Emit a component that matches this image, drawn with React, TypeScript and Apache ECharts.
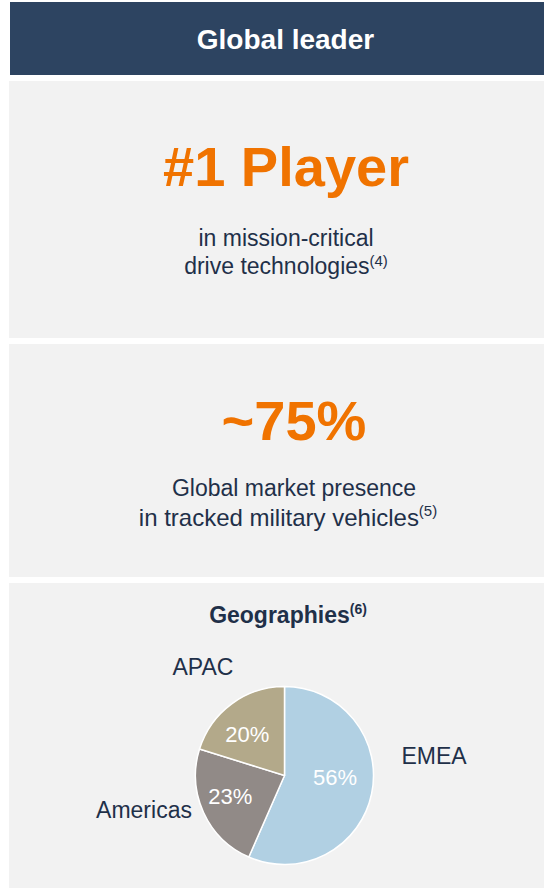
import React, { useEffect, useRef } from "react";
import * as echarts from "echarts";

const headerTitle = "Global leader";
const stat1Value = "#1 Player";
const stat1Lines = ["in mission-critical", "drive technologies"];
const stat1Note = "(4)";
const stat2Value = "~75%";
const stat2Lines = ["Global market presence", "in tracked military vehicles"];
const stat2Note = "(5)";
const pieTitle = "Geographies";
const pieNote = "(6)";
const regions = ["EMEA", "Americas", "APAC"];
const shares = [56, 23, 20];
const regionColors = ["#B1D0E3", "#918A87", "#B3A98A"];

const FONT = "'Liberation Sans', Arial, Helvetica, sans-serif";
const NAVY = "#1F3049";
const ORANGE = "#F07300";
const PANEL = "#F2F2F2";

export default function App() {
  const ref = useRef<HTMLDivElement>(null);
  useEffect(() => {
    document.body.style.margin = "0";
    const chart = echarts.init(ref.current!, null, { renderer: "svg" });
    const cx = 284.5;
    const cy = 775.5;
    const pctOffsets = [
      [4, -8],
      [-11, 1],
      [-9, -3],
    ];
    const namePos = [
      [434, 756],
      [144, 810],
      [203, 667],
    ];
    const lineText = (text: string, x: number, y: number, size: number, bold: boolean, color: string) => ({
      type: "text",
      x,
      y,
      style: {
        text,
        x: 0,
        y: 0,
        align: "center",
        verticalAlign: "middle",
        fill: color,
        font: `${bold ? "bold " : ""}${size}px ${FONT}`,
      },
    });
    const supText = (main: string, note: string, x: number, y: number, size: number, supSize: number, bold: boolean) => ({
      type: "text",
      x,
      y,
      style: {
        text: `{m|${main}}{s|${note}}`,
        align: "center",
        verticalAlign: "middle",
        rich: {
          m: {
            fontSize: size,
            fontWeight: bold ? "bold" : "normal",
            fontFamily: FONT,
            fill: NAVY,
            lineHeight: size + 4,
          },
          s: {
            fontSize: supSize,
            fontWeight: bold ? "bold" : "normal",
            fontFamily: FONT,
            fill: NAVY,
            verticalAlign: "top",
            lineHeight: supSize + 2,
          },
        },
      },
    });
    chart.setOption({
      animation: false,
      graphic: [
        { type: "rect", shape: { x: 10, y: 2, width: 534, height: 73 }, style: { fill: "#2D4461" } },
        { type: "rect", shape: { x: 9, y: 81, width: 535, height: 257 }, style: { fill: PANEL } },
        { type: "rect", shape: { x: 9, y: 344, width: 535, height: 233 }, style: { fill: PANEL } },
        { type: "rect", shape: { x: 9, y: 583, width: 535, height: 305 }, style: { fill: PANEL } },
        lineText(headerTitle, 285.5, 39, 28, true, "#FFFFFF"),
        lineText(stat1Value, 286, 166, 56, true, ORANGE),
        lineText(stat1Lines[0], 286, 238, 23, false, NAVY),
        supText(stat1Lines[1], stat1Note, 286, 266, 23, 15, false),
        lineText(stat2Value, 294, 420, 56, true, ORANGE),
        lineText(stat2Lines[0], 294, 488, 23, false, NAVY),
        supText(stat2Lines[1], stat2Note, 288, 517, 24, 15, false),
        supText(pieTitle, pieNote, 288, 615, 23, 14, true),
      ],
      series: [
        {
          type: "pie",
          center: [cx, cy],
          radius: 89,
          startAngle: 90,
          clockwise: true,
          silent: true,
          itemStyle: { borderColor: "#FFFFFF", borderWidth: 1.5 },
          label: {
            show: true,
            position: "inside",
            formatter: (p: any) => `${p.value}%`,
            color: "#FFFFFF",
            fontSize: 22,
            fontFamily: FONT,
          },
          labelLine: { show: false },
          labelLayout: (p: any) => ({ dx: pctOffsets[p.dataIndex][0], dy: pctOffsets[p.dataIndex][1] }),
          data: regions.map((r, i) => ({ name: r, value: shares[i], itemStyle: { color: regionColors[i] } })),
        },
        {
          type: "pie",
          center: [cx, cy],
          radius: 89,
          startAngle: 90,
          silent: true,
          z: 1,
          itemStyle: { color: "transparent", borderWidth: 0 },
          label: {
            show: true,
            position: "center",
            formatter: "{b}",
            color: NAVY,
            fontSize: 23,
            fontFamily: FONT,
          },
          labelLine: { show: false },
          labelLayout: (p: any) => ({
            x: namePos[p.dataIndex][0],
            y: namePos[p.dataIndex][1],
            align: "center",
            verticalAlign: "middle",
          }),
          data: regions.map((r, i) => ({ name: r, value: shares[i] })),
        },
      ],
    });
    return () => chart.dispose();
  }, []);
  return (
    <div
      ref={ref}
      style={{ position: "absolute", left: 0, top: 0, width: 544, height: 890, background: "#FFFFFF" }}
    />
  );
}
